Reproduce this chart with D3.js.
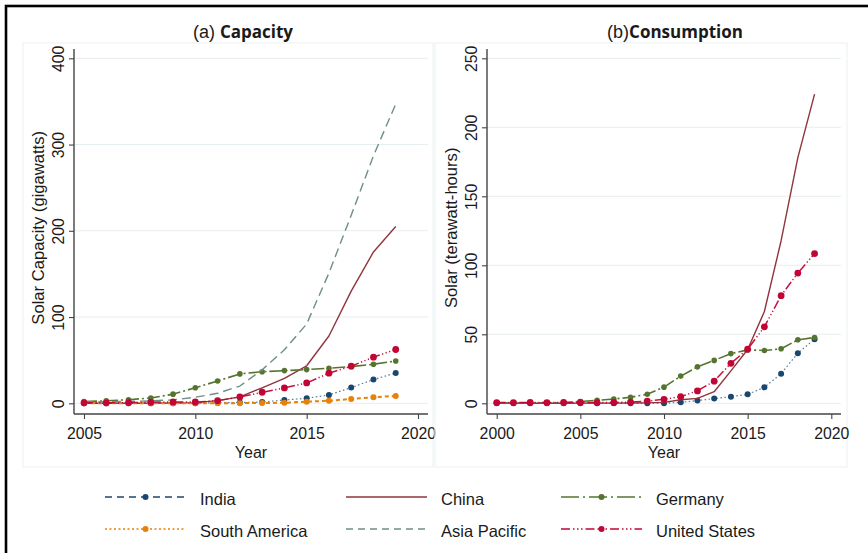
<!DOCTYPE html>
<html>
<head>
<meta charset="utf-8">
<script src="https://cdn.jsdelivr.net/npm/d3@7"></script>
<style>
  html, body { margin: 0; padding: 0; background: #fff; }
  svg { display: block; }
  text { font-family: "Liberation Sans", Arial, sans-serif; fill: #1a1a1a; }
</style>
</head>
<body>
<svg id="chart" width="868" height="553"></svg>
<script>
// ---- Solar capacity (gigawatts), 2005-2019 ----
const capYears = [2005, 2006, 2007, 2008, 2009, 2010, 2011, 2012, 2013, 2014, 2015, 2016, 2017, 2018, 2019];
const indiaCap   = [0.0, 0.0, 0.0, 0.0, 0.0, 0.1, 0.6, 1.0, 1.5, 3.8, 5.8, 9.7, 18.2, 27.5, 35.2];
const chinaCap   = [0.1, 0.1, 0.1, 0.1, 0.3, 0.8, 3.1, 7.5, 18.0, 29.0, 43.5, 78.0, 130.0, 175.5, 205.0];
const germanyCap = [2.1, 2.9, 4.2, 6.1, 10.6, 18.0, 25.9, 34.1, 36.6, 37.9, 39.1, 40.7, 42.6, 45.3, 49.0];
const southAmCap = [0.0, 0.0, 0.0, 0.0, 0.0, 0.0, 0.1, 0.2, 0.3, 0.6, 1.9, 3.0, 5.0, 7.0, 8.6];
const asiaPacCap = [1.5, 1.8, 2.2, 2.8, 4.0, 7.0, 11.6, 20.0, 38.8, 62.0, 92.0, 151.0, 218.0, 287.0, 347.0];
const usCap      = [0.5, 0.6, 0.8, 1.2, 1.6, 1.5, 3.0, 7.4, 12.8, 17.8, 23.6, 34.9, 43.0, 53.5, 62.4];

// ---- Solar consumption (terawatt-hours), 2000-2019 ----
const conYears = [2000, 2001, 2002, 2003, 2004, 2005, 2006, 2007, 2008, 2009, 2010, 2011, 2012, 2013, 2014, 2015, 2016, 2017, 2018, 2019];
const indiaCon   = [0, 0, 0, 0, 0, 0, 0, 0, 0, 0, 0.1, 0.7, 2.0, 3.4, 4.8, 6.5, 11.6, 21.5, 36.3, 46.5];
const chinaCon   = [0, 0, 0, 0, 0, 0.1, 0.1, 0.1, 0.2, 0.3, 0.7, 2.6, 3.6, 8.4, 23.5, 39.0, 66.5, 117.8, 178.0, 224.0];
const germanyCon = [0.1, 0.1, 0.2, 0.3, 0.6, 1.3, 2.2, 3.1, 4.4, 6.6, 11.7, 19.7, 26.4, 31.1, 36.0, 38.7, 38.3, 39.5, 46.0, 47.7];
const usCon      = [0.5, 0.5, 0.6, 0.5, 0.6, 0.6, 0.5, 0.6, 0.9, 1.6, 2.9, 4.8, 9.0, 16.0, 29.0, 39.2, 55.4, 78.0, 94.4, 108.5];

// ---- Ticks and labels ----
const capXTicks = [2005, 2010, 2015, 2020];
const capYTicks = [0, 100, 200, 300, 400];
const conXTicks = [2000, 2005, 2010, 2015, 2020];
const conYTicks = [0, 50, 100, 150, 200, 250];
const seriesNames = ["India", "China", "Germany", "South America", "Asia Pacific", "United States"];

// ---- Series appearance (Stata s2color palette) ----
const styles = {
  "India":         { color: "#1a476f", width: 1.2, dash: "1.6,2.4", legendDash: "7,5", marker: true, r: 3.0, lineOpacity: 0.7 },
  "China":         { color: "#90353b", width: 1.4, dash: null, legendDash: null, marker: false, r: 0, lineOpacity: 1 },
  "Germany":       { color: "#55752f", width: 1.6, dash: "13,3,2,3", legendDash: "18,4,2,4", marker: true, r: 2.8, lineOpacity: 1 },
  "South America": { color: "#e8800c", width: 2.0, dash: "4,3", legendDash: "2,2.5", marker: true, r: 3.0, lineOpacity: 1 },
  "Asia Pacific":  { color: "#6f8f86", width: 1.4, dash: "9,5", legendDash: "7,5", marker: false, r: 0, lineOpacity: 1 },
  "United States": { color: "#c10534", width: 1.5, dash: "9,2.5,1.2,2.5,1.2,2.5,1.2,2.5", legendDash: "9,3,1.5,2.5,1.5,2.5,1.5,3", marker: true, r: 3.4, lineOpacity: 0.95 }
};

const svg = d3.select("#chart");

// Outer frame (top and left edges fall inside the page)
svg.append("rect")
  .attr("x", 6).attr("y", 6).attr("width", 900).attr("height", 600)
  .attr("fill", "none").attr("stroke", "#000").attr("stroke-width", 2.6);

function drawPanel(cfg) {
  const g = svg.append("g");
  const x = d3.scaleLinear().domain(cfg.xDomain).range(cfg.xRange);
  const y = d3.scaleLinear().domain(cfg.yDomain).range(cfg.yRange);

  // faint graph-region box
  g.append("rect")
    .attr("x", cfg.box[0]).attr("y", cfg.box[1])
    .attr("width", cfg.box[2] - cfg.box[0]).attr("height", cfg.box[3] - cfg.box[1])
    .attr("fill", "none").attr("stroke", "#edf3f5").attr("stroke-width", 1.2);

  // horizontal gridlines
  g.append("g").selectAll("line").data(cfg.yTicks).join("line")
    .attr("x1", cfg.axisX).attr("x2", cfg.axisRight)
    .attr("y1", d => y(d)).attr("y2", d => y(d))
    .attr("stroke", "#e6eef1").attr("stroke-width", 1.1);

  // series
  const line = d3.line().x(d => x(d[0])).y(d => y(d[1]));
  cfg.series.forEach(s => {
    const st = styles[s.name];
    const pts = cfg.years.map((yr, i) => [yr, s.values[i]]);
    g.append("path")
      .datum(pts)
      .attr("d", line)
      .attr("fill", "none")
      .attr("stroke", st.color)
      .attr("stroke-width", st.width)
      .attr("stroke-opacity", st.lineOpacity)
      .attr("stroke-dasharray", st.dash)
      .attr("stroke-linejoin", "round");
    if (st.marker) {
      g.append("g").selectAll("circle").data(pts).join("circle")
        .attr("cx", d => x(d[0])).attr("cy", d => y(d[1]))
        .attr("r", st.r)
        .attr("fill", st.color);
    }
  });

  // x axis
  const xAxis = g.append("g")
    .attr("transform", `translate(0,${cfg.axisY})`)
    .call(d3.axisBottom(x).tickValues(cfg.xTicks).tickFormat(d3.format("d")).tickSize(5));
  xAxis.select(".domain").remove();
  xAxis.selectAll(".tick line").attr("stroke", "#444").attr("stroke-width", 1.1);
  xAxis.selectAll(".tick text")
    .attr("y", 25).attr("dy", null)
    .style("font-size", "15.8px").style("font-family", "'Liberation Sans', Arial, sans-serif")
    .attr("fill", "#1a1a1a");
  g.append("line")
    .attr("x1", cfg.axisX).attr("x2", cfg.axisRight)
    .attr("y1", cfg.axisY).attr("y2", cfg.axisY)
    .attr("stroke", "#444").attr("stroke-width", 1.4);

  // y axis
  const yAxis = g.append("g")
    .attr("transform", `translate(${cfg.axisX},0)`)
    .call(d3.axisLeft(y).tickValues(cfg.yTicks).tickSize(5));
  yAxis.select(".domain").remove();
  yAxis.selectAll(".tick line").attr("stroke", "#444").attr("stroke-width", 1.1);
  yAxis.selectAll(".tick text")
    .attr("transform", "rotate(-90)")
    .attr("x", 0).attr("y", -10).attr("dy", null)
    .attr("text-anchor", "middle")
    .style("font-size", "15.8px").style("font-family", "'Liberation Sans', Arial, sans-serif")
    .attr("fill", "#1a1a1a");
  g.append("line")
    .attr("x1", cfg.axisX).attr("x2", cfg.axisX)
    .attr("y1", cfg.axisTop).attr("y2", cfg.axisY)
    .attr("stroke", "#444").attr("stroke-width", 1.4);

  // axis titles
  g.append("text")
    .attr("x", (cfg.xRange[0] + cfg.xRange[1]) / 2).attr("y", 458)
    .attr("text-anchor", "middle").style("font-size", "16px")
    .text("Year");
  g.append("text")
    .attr("transform", `translate(${cfg.axisX - 30},${(cfg.yRange[0] + cfg.yRange[1]) / 2 - 3}) rotate(-90)`)
    .attr("text-anchor", "middle").style("font-size", "16.6px")
    .text(cfg.yTitle);

  // panel title: light prefix + bold name
  const t = g.append("text")
    .attr("x", cfg.titleX).attr("y", 37.5)
    .attr("text-anchor", "middle");
  t.append("tspan").style("font-size", "18px").style("font-family", "'Liberation Sans', Arial, sans-serif")
    .text(cfg.titlePrefix);
  t.append("tspan").style("font-size", "17px").style("font-weight", "700")
    .style("font-family", "'Open Sans', 'Noto Sans', sans-serif")
    .text(cfg.titleMain);
}

drawPanel({
  years: capYears,
  series: [
    { name: "India", values: indiaCap },
    { name: "China", values: chinaCap },
    { name: "Germany", values: germanyCap },
    { name: "South America", values: southAmCap },
    { name: "Asia Pacific", values: asiaPacCap },
    { name: "United States", values: usCap }
  ],
  xDomain: [2005, 2020], xRange: [84, 418],
  yDomain: [0, 400], yRange: [403.3, 58.3],
  xTicks: capXTicks, yTicks: capYTicks,
  axisX: 74, axisRight: 428, axisY: 414, axisTop: 49,
  box: [23, 43, 433, 467],
  yTitle: "Solar Capacity (gigawatts)",
  titleX: 243, titlePrefix: "(a) ", titleMain: "Capacity"
});

drawPanel({
  years: conYears,
  series: [
    { name: "India", values: indiaCon },
    { name: "China", values: chinaCon },
    { name: "Germany", values: germanyCon },
    { name: "United States", values: usCon }
  ],
  xDomain: [2000, 2020], xRange: [496.7, 831.3],
  yDomain: [0, 250], yRange: [403.3, 58.3],
  xTicks: conXTicks, yTicks: conYTicks,
  axisX: 487, axisRight: 841, axisY: 414, axisTop: 49,
  box: [435, 43, 847, 467],
  yTitle: "Solar (terawatt-hours)",
  titleX: 675, titlePrefix: "(b)", titleMain: "Consumption"
});

// ---- Legend: three columns, two rows ----
const legendCols = [105, 346, 561];
const legendRows = [497, 529];
const legend = svg.append("g");
seriesNames.forEach((name, i) => {
  const st = styles[name];
  const x0 = legendCols[i % 3], yy = legendRows[Math.floor(i / 3)];
  const item = legend.append("g");
  item.append("line")
    .attr("x1", x0).attr("x2", x0 + 81).attr("y1", yy).attr("y2", yy)
    .attr("stroke", st.color)
    .attr("stroke-width", 1.6)
    .attr("stroke-dasharray", st.legendDash);
  if (st.marker) {
    item.append("circle").attr("cx", x0 + 40.5).attr("cy", yy).attr("r", 3).attr("fill", st.color);
  }
  item.append("text")
    .attr("x", x0 + 95).attr("y", yy + 8)
    .style("font-size", "16.5px")
    .text(name);
});
</script>
</body>
</html>
